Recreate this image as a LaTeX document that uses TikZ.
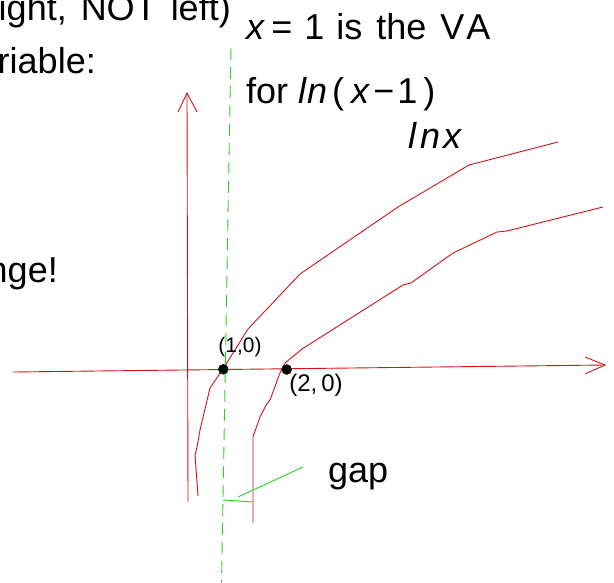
\documentclass[tikz,border=0pt]{standalone}
\usepackage{fontspec}
\setmainfont{Liberation Sans}
\definecolor{axisred}{RGB}{210,20,20}
\definecolor{vagreen}{RGB}{40,210,40}
\tikzset{
	redline/.style={axisred, line width=0.9pt},
	greenline/.style={vagreen, line width=0.9pt},
	dot/.style={circle, fill=black, inner sep=0pt, minimum size=10.5pt},
	bigtext/.style={inner sep=0pt, font=\fontsize{36}{42}\selectfont},
	smalltext/.style={inner sep=0pt, font=\fontsize{21}{25}\selectfont}
}
\begin{document}
\begin{tikzpicture}[x=1pt, y=-1pt]
	\useasboundingbox (0,0) rectangle (614,582);
	% text cut off at the left edge
	\node[bigtext, anchor=base east] (leftone) at (231,20) {ight,\hspace{4pt} NOT\hspace{4pt} left)};
	\node[bigtext, anchor=base east] (lefttwo) at (96,73) {riable:};
	\node[bigtext, anchor=base east] (leftthree) at (58,282) {nge!};
	\node[bigtext, anchor=base west] (vanote) at (246,39) {\textit{x}\hspace{6pt}=\hspace{12pt}1\hspace{12pt}is\hspace{14pt}the\hspace{14pt}V\hspace{2pt}A};
	\node[bigtext, anchor=base west] (fornote) at (246,103) {for \textit{l\hspace{1pt}n}\hspace{5pt}(\hspace{7pt}\textit{x}\hspace{3pt}−\hspace{3pt}1\hspace{6pt})};
	\node[bigtext, anchor=base west] (lnxlabel) at (408,148) {\textit{l\hspace{4pt}n\hspace{3pt}x}};
	
	% asymptote x=1
	\draw[greenline, dash pattern=on 12pt off 7pt] (231,48)--(221.5,582);
	
	% axes
	\draw[redline] (13,372)--(605,365);
	\draw[redline] (585,357)--(605,365)--(585,374);
	\draw[redline] (188,502)--(187,93);
	\draw[redline] (178,112)--(187,93)--(197,112);
	
	% ln x and ln(x-1)
	\draw[redline] (198,496)--(195,455)--(197,447)--(200,430)--(210,388)--(223,369)--(248,329)--(300,274)--(398,207)--(469,165)--(558,142);
	\draw[redline] (253,523)--(253,437)--(260,417)--(266,405)--(270,400)--(280,373)--(285,363)--(302,349)--(403,285)--(411,283)--(453,253)--(497,232)--(507,231)--(603,207);
	
	\node[dot] (one) at (223.3,369.3) {};
	\node[dot] (two) at (286.7,369.5) {};
	\node[smalltext] (onelabel) at (240,347) {(1,0)};
	\node[smalltext, font=\fontsize{24}{28}\selectfont] (twolabel) at (316,385) {(2,\hspace{4pt}0)};
	
	% gap
	\draw[greenline] (223,500)--(253,502);
	\coordinate (gaptick) at (238,497);
	\coordinate (gapend) at (303,467);
	\draw[greenline] (gaptick)--(gapend);
	\node[bigtext, anchor=base west] (gaplabel) at (328,482) {gap};
\end{tikzpicture}
\end{document}
